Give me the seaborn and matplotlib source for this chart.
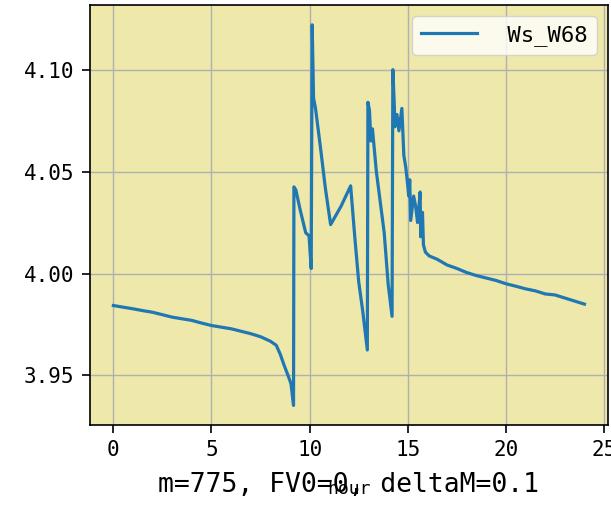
import numpy as np
import pandas as pd
import matplotlib
matplotlib.use('Agg')
import matplotlib.pyplot as plt
import seaborn as sns

# values
hours = [0.0, 0.5, 1.0, 1.5, 2.0, 2.5, 3.0, 3.5, 4.0, 4.5, 5.0, 5.5, 6.0, 6.5,
         7.0, 7.5, 8.0, 8.3, 8.5, 8.7, 8.9, 9.05, 9.18,
         9.2, 9.3, 9.5, 9.8, 9.97, 10.08,
         10.13, 10.2, 10.3, 10.55, 10.8, 11.07, 11.6, 12.09, 12.3, 12.5, 12.7, 12.94,
         12.97, 13.05, 13.12, 13.2, 13.4, 13.6, 13.8, 14.0, 14.2,
         14.24, 14.3, 14.35, 14.45, 14.55, 14.7, 14.8, 14.9, 14.98, 15.05, 15.1,
         15.15, 15.3, 15.4, 15.5, 15.63, 15.66, 15.75, 15.8, 15.9, 16.0, 16.1,
         16.5, 17.0, 17.5, 18.0, 18.5, 19.0, 19.5, 20.0, 20.5, 21.0, 21.5,
         22.0, 22.5, 23.0, 23.5, 24.0]
ws_w68 = [3.9843, 3.9835, 3.9827, 3.9818, 3.9810, 3.9798, 3.9786, 3.9778, 3.9770,
          3.9757, 3.9745, 3.9737, 3.9729, 3.9717, 3.9705, 3.9690, 3.9668, 3.9648,
          3.9605, 3.9550, 3.9500, 3.9460, 3.9353,
          4.0425, 4.0410, 4.0320, 4.0200, 4.0185, 4.0025,
          4.1220, 4.0860, 4.0810, 4.0620, 4.0420, 4.0240, 4.0330, 4.0430, 4.0180,
          3.9960, 3.9820, 3.9625,
          4.0840, 4.0800, 4.0650, 4.0710, 4.0500, 4.0350, 4.0200, 3.9950, 3.9790,
          4.1000, 4.0860, 4.0720, 4.0780, 4.0700, 4.0810, 4.0580, 4.0520, 4.0450,
          4.0380, 4.0460, 4.0260, 4.0380, 4.0330, 4.0250, 4.0400, 4.0180, 4.0300,
          4.0140, 4.0105, 4.0095, 4.0086,
          4.0070, 4.0042, 4.0025, 4.0005, 3.9990, 3.9978, 3.9966, 3.9950, 3.9938,
          3.9925, 3.9915, 3.9900, 3.9895, 3.9880, 3.9865, 3.9850]

df = pd.DataFrame({'hour': hours, 'Ws_W68': ws_w68})

plt.rcParams['font.family'] = ['DejaVu Sans Mono']

fig = plt.figure(figsize=(6.11, 5.05), dpi=100)
ax = fig.add_axes([0.147, 0.158, 0.848, 0.832])
ax.set_facecolor('palegoldenrod')

sns.lineplot(data=df, x='hour', y='Ws_W68', ax=ax, estimator=None, sort=False,
             color='#1f77b4', linewidth=2.3, label=' Ws_W68')

ax.grid(True, color='#b0b0b0', linewidth=1)
ax.set_axisbelow(True)
ax.tick_params(labelsize=15, length=6, width=1.2, pad=5)
ax.set_xticks([0, 5, 10, 15, 20, 25])
ax.set_yticks([3.95, 4.00, 4.05, 4.10])
ax.set_yticklabels(['3.95', '4.00', '4.05', '4.10'])
ax.set_xlim(-1.2, 25.2)
ax.set_ylim(3.9256, 4.1317)
ax.set_ylabel('')
ax.set_xlabel('hour', fontsize=13, labelpad=14)
for s in ax.spines.values():
    s.set_color('black')
    s.set_linewidth(1.2)

ax.legend(loc='upper right', fontsize=16, handlelength=2.5)

fig.text(0.57, 0.04, 'm=775, FV0=0, deltaM=0.1', fontsize=19, ha='center', va='center')

fig.savefig('out.png', dpi=100)
